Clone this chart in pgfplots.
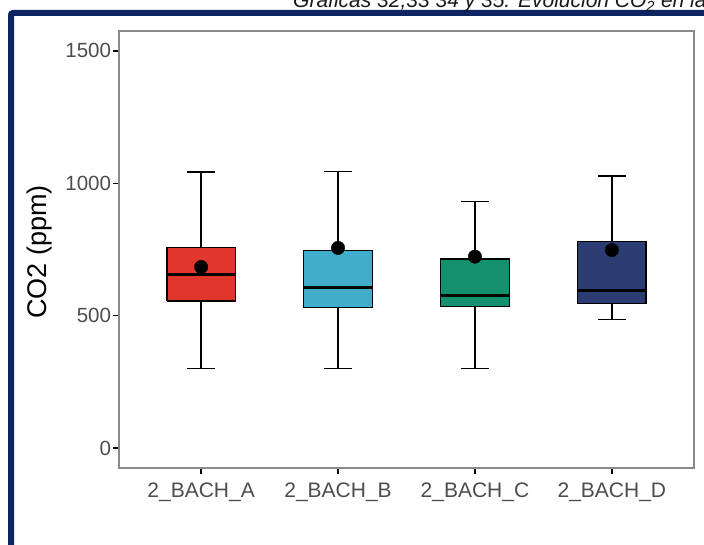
\documentclass[border=0pt]{standalone}
\usepackage{fontspec}
\setmainfont{Liberation Sans}
\usepackage{pgfplots}
\pgfplotsset{compat=1.18}
\definecolor{cA}{HTML}{E1362B}
\definecolor{cB}{HTML}{42ADCB}
\definecolor{cC}{HTML}{15906F}
\definecolor{cD}{HTML}{2C3D73}
\definecolor{frameblue}{HTML}{0C2462}
\definecolor{grey30}{HTML}{4D4D4D}
\definecolor{panelgrey}{HTML}{8A8A8A}
\begin{document}
\begin{tikzpicture}
\useasboundingbox (0pt,0pt) rectangle (704pt,544pt);
\begin{scope}
\clip (0pt,0pt) rectangle (704pt,544pt);
\draw[frameblue, line width=6pt, rounded corners=2pt] (11pt,-20pt) -- (11pt,531pt) -- (740pt,531pt);
\node[anchor=base west, inner sep=0pt, text=black!90] at (293pt,536pt)
  {\fontsize{21}{25}\selectfont\itshape Gráficas 32,33 34 y 35. Evolución CO\textsubscript{2} en la};
\end{scope}
\begin{axis}[
  at={(119pt,76pt)}, anchor=south west,
  width=575pt, height=437pt, scale only axis,
  xmin=0.4, xmax=4.6, ymin=-75, ymax=1575,
  xtick={1,2,3,4},
  xticklabels={2\_BACH\_A,2\_BACH\_B,2\_BACH\_C,2\_BACH\_D},
  ytick={0,500,1000,1500},
  tick align=outside, tick pos=left,
  major tick length=5.5pt,
  tick style={black, line width=1.3pt},
  axis line style={panelgrey, line width=1.3pt},
  ticklabel style={font=\fontsize{20.5}{24}\selectfont, text=grey30},
  xticklabel style={font=\fontsize{21}{25}\selectfont, yshift=-6pt},
  yticklabel style={xshift=1pt},
  /pgf/number format/assume math mode=true,
  scaled ticks=false,
  /pgf/number format/1000 sep={},
  clip=false,
  wh/.style={black, line width=1.3pt, mark=none},
  bx/.style={draw=black, line width=1.3pt, line cap=square, line join=miter, mark=none},
  md/.style={black, line width=3pt, mark=none},
]
% --- 2_BACH_A: whiskers 301/1043, box 555-758, median 656
\addplot[wh] coordinates {(1,301) (1,1043)};
\addplot[wh] coordinates {(0.9,301) (1.1,301)};
\addplot[wh] coordinates {(0.9,1043) (1.1,1043)};
\addplot[bx, fill=cA] coordinates {(0.75,555) (1.25,555) (1.25,758) (0.75,758) (0.75,555)};
\addplot[md] coordinates {(0.75,656) (1.25,656)};
% --- 2_BACH_B: whiskers 301/1044, box 530-745, median 607
\addplot[wh] coordinates {(2,301) (2,1044)};
\addplot[wh] coordinates {(1.9,301) (2.1,301)};
\addplot[wh] coordinates {(1.9,1044) (2.1,1044)};
\addplot[bx, fill=cB] coordinates {(1.75,530) (2.25,530) (2.25,745) (1.75,745) (1.75,530)};
\addplot[md] coordinates {(1.75,607) (2.25,607)};
% --- 2_BACH_C: whiskers 301/930, box 534-714, median 578
\addplot[wh] coordinates {(3,301) (3,930)};
\addplot[wh] coordinates {(2.9,301) (3.1,301)};
\addplot[wh] coordinates {(2.9,930) (3.1,930)};
\addplot[bx, fill=cC] coordinates {(2.75,534) (3.25,534) (3.25,714) (2.75,714) (2.75,534)};
\addplot[md] coordinates {(2.75,578) (3.25,578)};
% --- 2_BACH_D: whiskers 486/1028, box 545-779, median 594
\addplot[wh] coordinates {(4,486) (4,1028)};
\addplot[wh] coordinates {(3.9,486) (4.1,486)};
\addplot[wh] coordinates {(3.9,1028) (4.1,1028)};
\addplot[bx, fill=cD] coordinates {(3.75,545) (4.25,545) (4.25,779) (3.75,779) (3.75,545)};
\addplot[md] coordinates {(3.75,594) (4.25,594)};
% --- means
\addplot[only marks, mark=*, mark size=6.7pt, black] coordinates {(1,684) (2,756) (3,723) (4,748)};
\node[rotate=90, anchor=center, font=\fontsize{27}{31}\selectfont] at (rel axis cs:-0.139,0.494) {CO2 (ppm)};
\end{axis}
\end{tikzpicture}
\end{document}
